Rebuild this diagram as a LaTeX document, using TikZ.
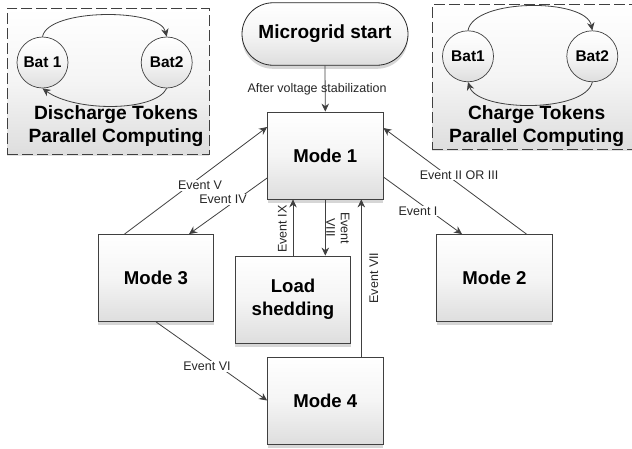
\documentclass[tikz,border=0pt]{standalone}
\usepackage{fontspec}
\setmainfont{Liberation Sans}
\usetikzlibrary{arrows.meta,shapes.misc,calc}
\definecolor{edge}{HTML}{404040}
\definecolor{shadowgrey}{HTML}{D6D6D6}
\pgfdeclareverticalshading{softgrad}{100bp}{color(0bp)=(black!13); color(25bp)=(black!13); color(50bp)=(black!4); color(75bp)=(white); color(100bp)=(white)}
\tikzset{
  boxshade/.style={shading=softgrad,shading angle=0},
  modebox/.style={draw=edge,line width=0.8pt,boxshade,inner sep=0pt,minimum width=115.5pt,minimum height=87pt,align=center,font=\fontsize{18.6}{23}\selectfont\bfseries},
  startbox/.style={rounded rectangle,draw=black!85,line width=0.8pt,boxshade,inner sep=0pt,minimum width=166pt,minimum height=62.5pt,font=\fontsize{19}{20}\selectfont\bfseries},
  tokenbox/.style={draw=edge,line width=0.8pt,dash pattern=on 11pt off 4pt,boxshade,inner sep=0pt},
  batnode/.style={circle,draw=edge,line width=0.7pt,boxshade,inner sep=0pt,minimum size=51pt,font=\fontsize{15.5}{17}\selectfont\bfseries},
  tokentext/.style={align=center,inner sep=0pt,font=\fontsize{19.2}{23}\selectfont\bfseries},
  evlabel/.style={fill=white,inner sep=1pt,align=center,text=black!85,font=\fontsize{12.5}{14.5}\selectfont},
  conn/.style={draw=edge,line width=0.8pt,-{Stealth[length=8pt,width=7.5pt]}},
  shadowfill/.style={fill=shadowgrey,draw=none}
}
\begin{document}
\begin{tikzpicture}[x=1pt,y=-1pt]
\useasboundingbox (0,0) rectangle (632,448);
% drop shadows (drawn first, below the shapes)
\fill[shadowgrey!70] (7.4,150) rectangle (209.4,156);
\fill[shadowgrey!70] (432,145) rectangle (632,151);
\fill[shadowfill] (42.5,66) circle[radius=25.5];
\fill[shadowfill] (166.7,66) circle[radius=25.5];
\fill[shadowfill] (468,59.8) circle[radius=25.5];
\fill[shadowfill] (592.3,59.8) circle[radius=25.5];
\fill[shadowfill,rounded corners=31pt] (242,6.3) rectangle (408,68.8);
\fill[shadowfill] (267.5,150) rectangle (383,202.5);
\fill[shadowfill] (98.2,300) rectangle (213.8,325);
\fill[shadowfill] (235.2,320) rectangle (350.8,346.5);
\fill[shadowfill] (267.5,420) rectangle (383,447.5);
\fill[shadowfill] (436.7,300) rectangle (552.3,325);
% token panels
\node[tokenbox,minimum width=202pt,minimum height=146pt] (dpanel) at (108.4,81) {};
\node[tokenbox,minimum width=204pt,minimum height=144.5pt] (cpanel) at (534,76.7) {};
% batteries
\node[batnode] (b1) at (42.5,62.5) {Bat 1};
\node[batnode] (b2) at (166.7,62.5) {Bat2};
\node[batnode] (c1) at (468,56.3) {Bat1};
\node[batnode] (c2) at (592.3,56.3) {Bat2};
\draw[conn] (b1.north) .. controls (48,8) and (160,8) .. (b2.north);
\draw[conn] (b2.south) .. controls (155,112) and (75,112) .. (b1.south);
\draw[conn] (c1.north) .. controls (474,-2) and (586,-2) .. (c2.north);
\draw[conn] (c2.south) .. controls (585,113) and (478,112) .. (c1.south);
\node[tokentext] (dtext) at (116,126.5) {Discharge Tokens\\Parallel Computing};
\node[tokentext] (ctext) at (536.7,126.5) {Charge Tokens\\Parallel Computing};
% main nodes
\node[startbox] (start) at (325,34) {Microgrid start};
\node[modebox] (m1) at (325.3,155.5) {Mode 1};
\node[modebox] (m3) at (156,278) {Mode 3};
\node[modebox] (ls) at (293,299.5) {Load\\shedding};
\node[modebox] (m4) at (325.3,400.5) {Mode 4};
\node[modebox] (m2) at (494.5,278) {Mode 2};
% connectors
\draw[conn] (start.south) -- (m1.north);
\draw[conn] ([xshift=-31.5pt]m3.north) -- ([yshift=28.5pt]m1.west);
\draw[conn] ([yshift=-22.5pt]m1.west) -- ([xshift=33pt]m3.north);
\draw[conn] ([xshift=32pt]m2.north) -- ([yshift=27.5pt]m1.east);
\draw[conn] ([yshift=-21.5pt]m1.east) -- ([xshift=-32.5pt]m2.north);
\draw[conn] (ls.north) -- (ls.north |- m1.south);
\draw[conn] (m1.south) -- (m1.south |- ls.north);
\draw[conn] ([xshift=36pt]m4.north) -- ([xshift=36pt]m1.south);
\draw[conn] (m3.south) -- (m4.west);
% labels
\node[evlabel,fill=none] (lstart) at (317,89) {After voltage stabilization};
\node[evlabel] (l5) at (200,185.5) {Event V};
\node[evlabel] (l4) at (223,199.5) {Event IV};
\node[evlabel] (l23) at (459,175) {Event II OR III};
\node[evlabel] (l1) at (418,211) {Event I};
\node[evlabel,rotate=90,fill=none] (l9) at (282.5,229) {Event IX};
\node[evlabel,rotate=-90,fill=none] (l8) at (338,228) {Event\\VIII};
\node[evlabel,rotate=90,fill=none] (l7) at (374,278) {Event VII};
\node[evlabel] (l6) at (207,366.5) {Event VI};
\end{tikzpicture}
\end{document}
